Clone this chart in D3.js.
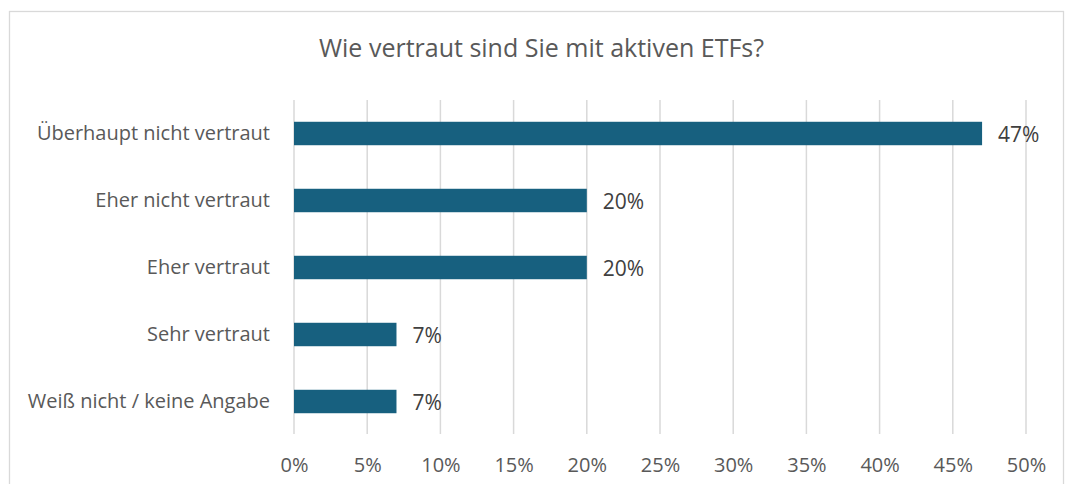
<!DOCTYPE html>
<html>
<head>
<meta charset="utf-8">
<script src="https://cdn.jsdelivr.net/npm/d3@7"></script>
<style>
  body { margin: 0; background: #fff; }
  text { font-family: "Open Sans", Roboto, sans-serif; }
</style>
</head>
<body>
<script>
// survey answers, top to bottom
var categories = ["Überhaupt nicht vertraut", "Eher nicht vertraut", "Eher vertraut", "Sehr vertraut", "Weiß nicht / keine Angabe"];
var values = [0.47, 0.20, 0.20, 0.07, 0.07];
var tickValues = [0, 0.05, 0.10, 0.15, 0.20, 0.25, 0.30, 0.35, 0.40, 0.45, 0.50];
var title = "Wie vertraut sind Sie mit aktiven ETFs?";

var width = 1065, height = 484;
var barColor = "#17607f";
var fontFam = "'Open Sans', Roboto, sans-serif";

var svg = d3.select("body").append("svg")
    .attr("width", width)
    .attr("height", height);

// chart area border
svg.append("rect")
    .attr("x", 9.5).attr("y", 11.5)
    .attr("width", 1054).attr("height", 500)
    .attr("fill", "none")
    .attr("stroke", "#d9d9d9")
    .attr("stroke-width", 1.3);

var x = d3.scaleLinear().domain([0, 0.5]).range([294, 1026]);

var y = d3.scaleBand()
    .domain(categories)
    .range([100, 435])
    .paddingInner(0.65)
    .paddingOuter(0.325);

// gridlines
svg.append("g")
    .selectAll("line")
    .data(tickValues)
    .enter()
    .append("line")
    .attr("x1", function(d) { return x(d); })
    .attr("x2", function(d) { return x(d); })
    .attr("y1", 100)
    .attr("y2", 434)
    .attr("stroke", "#d9d9d9")
    .attr("stroke-width", 1.5);

// x axis labels
var xAxis = d3.axisBottom(x)
    .tickValues(tickValues)
    .tickFormat(d3.format(".0%"))
    .tickSize(0)
    .tickPadding(0);

var gx = svg.append("g")
    .attr("transform", "translate(0,458)")
    .call(xAxis);
gx.select(".domain").remove();
gx.selectAll("text")
    .attr("fill", "#595959")
    .style("font-size", "20px")
    .style("font-family", fontFam);

// y axis labels
var yAxis = d3.axisLeft(y).tickSize(0).tickPadding(24);
var gy = svg.append("g")
    .attr("transform", "translate(294,0)")
    .call(yAxis);
gy.select(".domain").remove();
gy.selectAll("text")
    .attr("fill", "#595959")
    .style("font-size", "20px")
    .style("font-family", fontFam);

// bars
svg.append("g")
    .selectAll("rect")
    .data(values)
    .enter()
    .append("rect")
    .attr("x", x(0))
    .attr("y", function(d, i) { return y(categories[i]); })
    .attr("width", function(d) { return x(d) - x(0); })
    .attr("height", y.bandwidth())
    .attr("fill", barColor);

// value labels
svg.append("g")
    .selectAll("text")
    .data(values)
    .enter()
    .append("text")
    .attr("x", function(d) { return x(d) + 16; })
    .attr("y", function(d, i) { return y(categories[i]) + y.bandwidth() / 2; })
    .attr("dy", "0.4em")
    .attr("fill", "#404040")
    .style("font-size", "21px")
    .text(function(d) { return Math.round(d * 100) + "%"; });

// title
svg.append("text")
    .attr("x", 541.5)
    .attr("y", 57)
    .attr("text-anchor", "middle")
    .attr("fill", "#595959")
    .style("font-size", "25px")
    .text(title);
</script>
</body>
</html>
